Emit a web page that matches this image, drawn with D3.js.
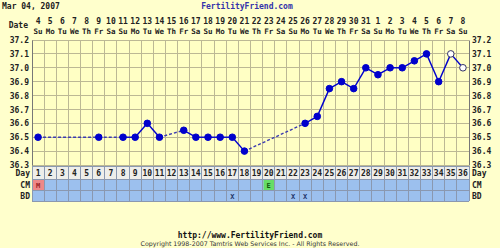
<!DOCTYPE html>
<html>
<head>
<meta charset="utf-8">
<script src="https://cdn.jsdelivr.net/npm/d3@7"></script>
<style>
  body { margin: 0; background: #ffffcc; }
  text { font-family: "DejaVu Sans Mono", monospace; font-weight: bold; }
</style>
</head>
<body>
<div id="chart-area"></div>
<script>
// chart data
var chartDate = "Mar 04, 2007";
var days = [1,2,3,4,5,6,7,8,9,10,11,12,13,14,15,16,17,18,19,20,21,22,23,24,25,26,27,28,29,30,31,32,33,34,35,36];
var dates = ["4","5","6","7","8","9","10","11","12","13","14","15","16","17","18","19","20","21","22","23","24","25","26","27","28","29","30","31","1","2","3","4","5","6","7","8"];
var weekdays = ["Su","Mo","Tu","We","Th","Fr","Sa","Su","Mo","Tu","We","Th","Fr","Sa","Su","Mo","Tu","We","Th","Fr","Sa","Su","Mo","Tu","We","Th","Fr","Sa","Su","Mo","Tu","We","Th","Fr","Sa","Su"];
var temps = [36.5, null, null, null, null, 36.5, null, 36.5, 36.5, 36.6, 36.5, null, 36.55, 36.5, 36.5, 36.5, 36.5, 36.4,
             null, null, null, null, 36.6, 36.65, 36.85, 36.9, 36.85, 37.0, 36.95, 37.0, 37.0, 37.05, 37.1, 36.9, 37.1, 37.0];
var openDays = [35, 36];
var yTicks = [36.3, 36.4, 36.5, 36.6, 36.7, 36.8, 36.9, 37.0, 37.1, 37.2];
var cmDays = [1, 20];
var cmCodes = ["M", "E"];
var cmColors = ["#ee8888", "#66dd66"];
var bdDays = [17, 22, 23];

var width = 500, height = 248;
var plotTop = 40, plotBottom = 165, plotLeft = 32, plotRight = 469;

var svg = d3.select("#chart-area").append("svg")
	.attr("width", width)
	.attr("height", height);

svg.append("rect").attr("width", width).attr("height", height).attr("fill", "#ffffcc");

var x = d3.scaleBand().domain(days).range([plotLeft, plotRight]).padding(0);
var y = d3.scaleLinear().domain([36.3, 37.2]).range([plotBottom, plotTop]);

// header
svg.append("text").attr("x", 2).attr("y", 9).attr("font-size", 8).attr("fill", "#222").text(chartDate);
svg.append("text").attr("x", 247).attr("y", 9).attr("text-anchor", "middle").attr("font-size", 8)
	.attr("fill", "#3333aa").text("FertilityFriend.com");
svg.append("text").attr("x", 28).attr("y", 28).attr("text-anchor", "end").attr("font-size", 8).attr("fill", "#222").text("Date");

svg.selectAll(".date").data(days).enter().append("text")
	.attr("class", "date")
	.attr("x", function(d) { return x(d) + x.bandwidth() / 2; })
	.attr("y", 24)
	.attr("text-anchor", "middle").attr("font-size", 8).attr("fill", "#222")
	.text(function(d, i) { return dates[i]; });
svg.selectAll(".wday").data(days).enter().append("text")
	.attr("class", "wday")
	.attr("x", function(d) { return x(d) + x.bandwidth() / 2; })
	.attr("y", 34)
	.attr("text-anchor", "middle").attr("font-size", 7.5).attr("fill", "#222")
	.text(function(d, i) { return weekdays[i]; });

// plot background + grid
svg.append("rect").attr("x", plotLeft).attr("y", plotTop)
	.attr("width", plotRight - plotLeft).attr("height", plotBottom - plotTop)
	.attr("fill", "#ffffc4");

var grid = svg.append("g").attr("shape-rendering", "crispEdges");
grid.selectAll(".hl").data(yTicks).enter().append("line")
	.attr("x1", plotLeft).attr("x2", plotRight)
	.attr("y1", function(d) { return y(d); }).attr("y2", function(d) { return y(d); })
	.attr("stroke", "#bcb894");
grid.selectAll(".vl").data(days).enter().append("line")
	.attr("x1", function(d) { return x(d); }).attr("x2", function(d) { return x(d); })
	.attr("y1", plotTop).attr("y2", 201)
	.attr("stroke", "#bcb894");

// y axes labels (both sides)
var yAxisL = d3.axisLeft(y).tickValues(yTicks).tickFormat(d3.format(".1f")).tickSize(0).tickPadding(3);
var yAxisR = d3.axisRight(y).tickValues(yTicks).tickFormat(d3.format(".1f")).tickSize(0).tickPadding(3);
var gl = svg.append("g").attr("transform", "translate(" + plotLeft + ",0)").call(yAxisL);
var gr = svg.append("g").attr("transform", "translate(" + plotRight + ",0)").call(yAxisR);
[gl, gr].forEach(function(g) {
	g.select(".domain").attr("stroke", "#777");
	g.selectAll("text").attr("font-size", 8).attr("fill", "#222")
		.style("font-family", "DejaVu Sans Mono").style("font-weight", "bold");
});

// rows below: Day, CM, BD
var rowDay = [166, 179], rowCM = [179, 190], rowBD = [190, 201];
svg.append("rect").attr("x", plotLeft).attr("y", rowDay[0]).attr("width", plotRight - plotLeft).attr("height", rowDay[1] - rowDay[0]).attr("fill", "#eeeeea");
svg.append("rect").attr("x", plotLeft).attr("y", rowCM[0]).attr("width", plotRight - plotLeft).attr("height", rowCM[1] - rowCM[0]).attr("fill", "#9cc0ee");
svg.append("rect").attr("x", plotLeft).attr("y", rowBD[0]).attr("width", plotRight - plotLeft).attr("height", rowBD[1] - rowBD[0]).attr("fill", "#9cc0ee");

svg.selectAll(".cm").data(cmDays).enter().append("rect")
	.attr("x", function(d) { return x(d) + 1; }).attr("y", rowCM[0] + 1)
	.attr("width", x.bandwidth() - 1).attr("height", rowCM[1] - rowCM[0] - 1)
	.attr("fill", function(d, i) { return cmColors[i]; });

var rowGrid = svg.append("g").attr("shape-rendering", "crispEdges");
rowGrid.selectAll(".vr").data(days.concat([37])).enter().append("line")
	.attr("x1", function(d) { return d > 36 ? plotRight : x(d); })
	.attr("x2", function(d) { return d > 36 ? plotRight : x(d); })
	.attr("y1", rowDay[0]).attr("y2", rowBD[1])
	.attr("stroke", "#8a98b0");
rowGrid.selectAll(".hr").data([rowDay[0], rowCM[0], rowBD[0], rowBD[1]]).enter().append("line")
	.attr("x1", plotLeft).attr("x2", plotRight)
	.attr("y1", function(d) { return d; }).attr("y2", function(d) { return d; })
	.attr("stroke", "#8a98b0");

svg.selectAll(".dayn").data(days).enter().append("text")
	.attr("x", function(d) { return x(d) + x.bandwidth() / 2; })
	.attr("y", 176).attr("text-anchor", "middle").attr("font-size", 8).attr("fill", "#222")
	.text(function(d) { return d; });
svg.selectAll(".cmt").data(cmDays).enter().append("text")
	.attr("x", function(d) { return x(d) + x.bandwidth() / 2; })
	.attr("y", 188).attr("text-anchor", "middle").attr("font-size", 7)
	.attr("fill", function(d, i) { return i == 0 ? "#992222" : "#115511"; })
	.text(function(d, i) { return cmCodes[i]; });
svg.selectAll(".bdt").data(bdDays).enter().append("text")
	.attr("x", function(d) { return x(d) + x.bandwidth() / 2; })
	.attr("y", 199).attr("text-anchor", "middle").attr("font-size", 7).attr("fill", "#223366")
	.text("X");

var rowLabels = ["Day", "CM", "BD"], rowY = [176, 188, 199];
rowLabels.forEach(function(l, i) {
	svg.append("text").attr("x", 30).attr("y", rowY[i]).attr("text-anchor", "end").attr("font-size", 8).attr("fill", "#222").text(l);
	svg.append("text").attr("x", 472).attr("y", rowY[i]).attr("font-size", 8).attr("fill", "#222").text(l);
});

// temperature line
var pts = [];
days.forEach(function(d, i) { if (temps[i] != null) pts.push({day: d, t: temps[i]}); });
var segs = [];
for (var i = 1; i < pts.length; i++) segs.push({a: pts[i - 1], b: pts[i], gap: pts[i].day - pts[i - 1].day > 1});
var cx = function(d) { return x(d.day) + x.bandwidth() / 2; };

svg.selectAll(".seg").data(segs).enter().append("line")
	.attr("x1", function(s) { return cx(s.a); }).attr("y1", function(s) { return y(s.a.t); })
	.attr("x2", function(s) { return cx(s.b); }).attr("y2", function(s) { return y(s.b.t); })
	.attr("stroke", function(s) { return s.gap ? "#3a3ab0" : "#0000cc"; })
	.attr("stroke-width", 1.4)
	.attr("stroke-dasharray", function(s) { return s.gap ? "3,2" : null; });

svg.selectAll(".pt").data(pts).enter().append("circle")
	.attr("cx", cx).attr("cy", function(d) { return y(d.t); })
	.attr("r", 3.3)
	.attr("fill", function(d) { return openDays.includes(d.day) ? "#ffffff" : "#0000cc"; })
	.attr("stroke", function(d) { return openDays.includes(d.day) ? "#333366" : "#0000cc"; })
	.attr("stroke-width", 1);

// footer
svg.append("text").attr("x", 250).attr("y", 238).attr("text-anchor", "middle").attr("font-size", 8).attr("fill", "#111")
	.text("http://www.FertilityFriend.com");
svg.append("text").attr("x", 250).attr("y", 246).attr("text-anchor", "middle").attr("font-size", 6.3).attr("fill", "#333")
	.style("font-family", "DejaVu Sans").style("font-weight", "normal")
	.text("Copyright 1998-2007 Tamtris Web Services Inc. - All Rights Reserved.");
</script>
</body>
</html>
